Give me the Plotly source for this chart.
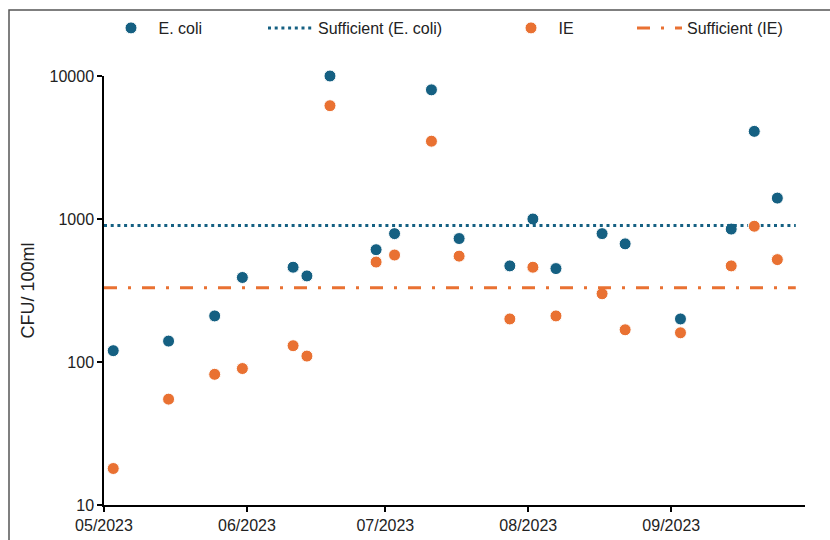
import plotly.graph_objects as go

# ---- data ----
sample_dates = [
    "2023-05-03", "2023-05-15", "2023-05-25", "2023-05-31", "2023-06-11",
    "2023-06-14", "2023-06-19", "2023-06-29", "2023-07-03", "2023-07-11",
    "2023-07-17", "2023-07-28", "2023-08-02", "2023-08-07", "2023-08-17",
    "2023-08-22", "2023-09-03", "2023-09-14", "2023-09-19", "2023-09-24",
]
ecoli = [120, 140, 210, 390, 460, 400, 10000, 610, 790, 8000,
         730, 470, 1000, 450, 790, 670, 200, 850, 4100, 1400]
ie = [18, 55, 82, 90, 130, 110, 6200, 500, 560, 3500,
      550, 200, 460, 210, 300, 168, 160, 470, 890, 520]

threshold_dates = ["2023-05-01", "2023-09-28"]
sufficient_ecoli = [900, 900]
sufficient_ie = [330, 330]

tick_dates = ["2023-05-01", "2023-06-01", "2023-07-01", "2023-08-01", "2023-09-01"]
tick_labels = ["05/2023", "06/2023", "07/2023", "08/2023", "09/2023"]
y_ticks = [10, 100, 1000, 10000]
y_tick_labels = ["10", "100", "1000", "10000"]

BLUE = "#156082"
ORANGE = "#E97132"
FONT = "Liberation Sans, Arial, sans-serif"

fig = go.Figure()
fig.add_trace(go.Scatter(
    x=sample_dates, y=ecoli, mode="markers", name="E. coli",
    marker=dict(color=BLUE, size=12, line=dict(color="white", width=1)),
    legend="legend", showlegend=True, cliponaxis=False,
))
fig.add_trace(go.Scatter(
    x=threshold_dates, y=sufficient_ecoli, mode="lines", name="Sufficient (E. coli)",
    line=dict(color=BLUE, width=3, dash="3px,3.7px"),
    legend="legend2", showlegend=True,
))
fig.add_trace(go.Scatter(
    x=sample_dates, y=ie, mode="markers", name="IE",
    marker=dict(color=ORANGE, size=12, line=dict(color="white", width=1)),
    legend="legend3", showlegend=True, cliponaxis=False,
))
fig.add_trace(go.Scatter(
    x=threshold_dates, y=sufficient_ie, mode="lines", name="Sufficient (IE)",
    line=dict(color=ORANGE, width=3, dash="13px,11px,3px,11px"),
    legend="legend4", showlegend=True,
))

W, H = 830, 540
L, R, T, B = 104, 25, 76, 35
pw, ph = W - L - R, H - T - B

def leg(px):
    return dict(
        xref="paper", yref="paper", x=(px - L) / pw, y=(H - B - 28) / ph,
        xanchor="left", yanchor="middle", orientation="h",
        itemwidth=45, font=dict(family=FONT, size=16, color="#222"),
        bgcolor="rgba(0,0,0,0)", borderwidth=0,
    )

fig.update_layout(
    width=W, height=H,
    showlegend=True,
    margin=dict(l=L, r=R, t=T, b=B, autoexpand=False),
    paper_bgcolor="white", plot_bgcolor="white",
    font=dict(family=FONT, size=16, color="#222"),
    legend=leg(103.5),
    legend2=leg(263),
    legend3=leg(503.5),
    legend4=leg(632),
    xaxis=dict(
        type="date", range=["2023-05-01", "2023-09-30"],
        tickvals=tick_dates, ticktext=tick_labels,
        showgrid=False, zeroline=False, automargin=False,
        showline=True, linecolor="black", linewidth=1.5,
        ticks="outside", ticklen=5, tickcolor="black", tickwidth=1.5,
        tickfont=dict(family=FONT, size=16, color="#222"),
    ),
    yaxis=dict(
        type="log", range=[1, 4],
        tickvals=y_ticks, ticktext=y_tick_labels,
        showgrid=False, zeroline=False, automargin=False,
        showline=True, linecolor="black", linewidth=1.5,
        ticks="outside", ticklen=5, tickcolor="black", tickwidth=1.5,
        tickfont=dict(family=FONT, size=16, color="#222"),
        title=dict(text="CFU/ 100ml", font=dict(family=FONT, size=18, color="#222"), standoff=10),
    ),
    shapes=[
        dict(type="rect", xref="paper", yref="paper",
             x0=(9 - L) / pw, x1=(W + 20 - L) / pw,
             y0=(H - B - (H + 20)) / ph, y1=(H - B - 10) / ph,
             line=dict(color="#555", width=1.5), fillcolor="rgba(0,0,0,0)", layer="below"),
    ],
)

fig.write_html("out.html", config={"displayModeBar": False},
               post_script="document.body.style.margin='0';")
